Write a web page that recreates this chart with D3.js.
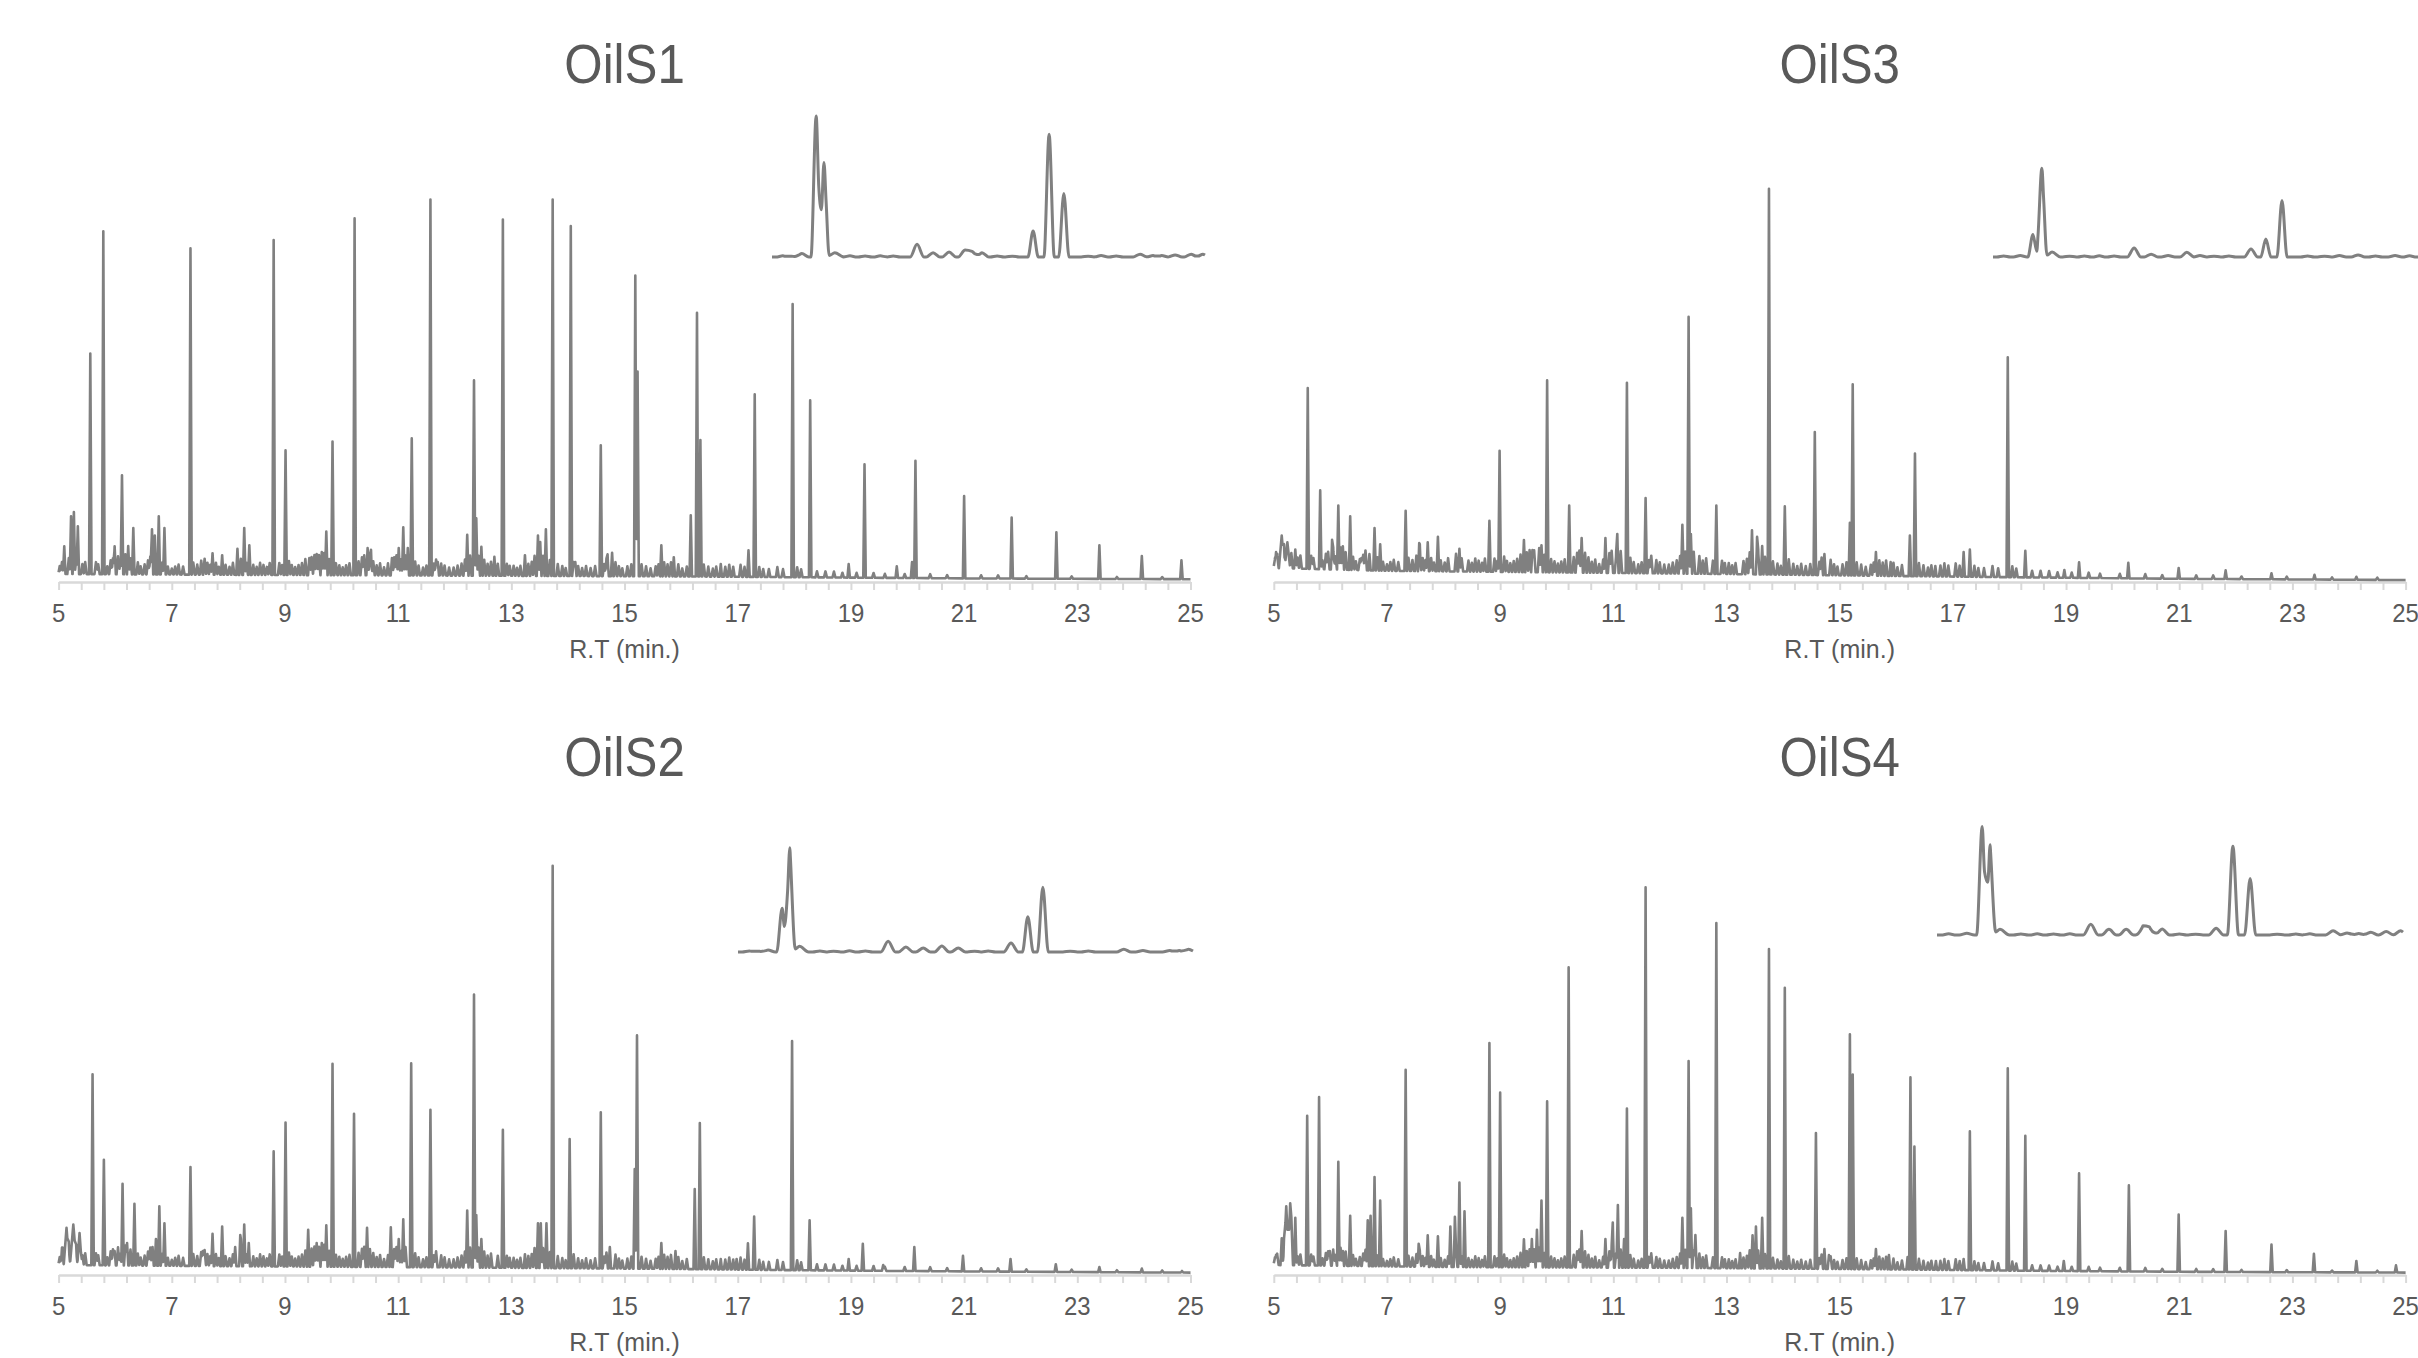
<!DOCTYPE html>
<html>
<head>
<meta charset="utf-8">
<script src="https://cdn.jsdelivr.net/npm/d3@7/dist/d3.min.js"></script>
<style>
  body { margin: 0; background: #fff; }
  svg { display: block; font-family: "Liberation Sans", Arial, sans-serif; }
</style>
</head>
<body>
<svg id="chart" width="2418" height="1358"></svg>
<script>
// ---- data (retention time in min, intensity in % of a common full scale) ----
var tickLabels = [5, 7, 9, 11, 13, 15, 17, 19, 21, 23, 25];

// main peaks: [rt, height above axis, optional half-width]
var peaksS1 = [[5.10,8.9],[5.22,16.4],[5.27,17.5],[5.34,13.9],[5.56,57.1],[5.79,87.7],[5.99,8.9],[6.12,26.7],[6.23,9],[6.32,13.5],
  [6.65,13.2],[6.70,11.6],[6.77,16.4],[6.87,13.5],[7.33,83.4],[7.72,7.2],[7.89,6.7],[8.16,8.3],[8.28,13.5],[8.37,9.2],
  [8.80,85.5],[9.01,32.9],[9.43,6],[9.56,7],[9.65,7.5],[9.73,12.6],[9.84,35.1],[10.23,90.9],[10.46,8.5],[10.52,7],
  [10.89,6],[11.01,8.5],[11.09,13.7],[11.17,8.5],[11.24,35.9],[11.57,95.6],[11.70,5],[12.22,11.8],[12.34,50.4],[12.38,15.9],
  [12.47,8.8],[12.70,6.3],[12.85,90.6],[13.24,6.7],[13.47,11.6],[13.51,10],[13.61,13.2],[13.73,95.6],[14.05,89],[14.13,5],
  [14.58,34.2],[14.70,6],[14.78,7.3],[15.19,76.6],[15.23,52.6],[15.65,9.2],[15.87,6.2],[16.17,16.7],[16.28,67.3],[16.34,35.5],
  [16.70,4.5],[17.19,7.9],[17.30,46.9],[17.97,69.5],[18.28,45.4],[18.96,4.5],[19.24,29.4],[19.81,3.9],[20.08,5],[20.14,30.3],
  [21.00,21.5],[21.84,16.1],[22.63,12.4],[23.39,9.2],[24.14,6.5],[24.84,5.4]];

var peaksS2 = [[5.07,5],[5.14,11.8,0.05],[5.26,12.6,0.06],[5.37,10.5,0.04],[5.60,50.2],[5.80,28.8],[5.99,6],[6.13,22.8],[6.21,8],[6.34,17.8],
  [6.66,7],[6.72,9],[6.78,17.2],[6.87,12.9],[7.33,27],[7.55,6],[7.72,10.3],[7.89,12.1],[8.12,7],[8.21,7.5],
  [8.28,12.6],[8.36,8],[8.80,30.9],[9.01,38.1],[9.41,11.3],[9.56,8],[9.65,8],[9.73,12.4],[9.84,52.8],[10.22,40.3],
  [10.45,11.8],[10.87,11.9],[11.01,9],[11.09,13.9],[11.23,52.9],[11.57,41.3],[12.22,16.1],[12.34,70.1],[12.38,15],[12.47,9],
  [12.85,36.3],[13.24,5.2],[13.47,12.9],[13.52,12.9],[13.62,12.9],[13.73,102.3],[14.03,34],[14.58,40.7],[14.74,7],[15.18,26.5],
  [15.22,59.9],[15.65,8],[15.90,6],[16.24,21.5],[16.33,38],[16.70,4],[16.98,4],[17.18,7.9],[17.29,14.6],[17.96,58.5],
  [18.27,13.7],[18.96,4],[19.21,7.8],[19.57,2.5],[20.12,7],[20.98,4.8],[21.82,4],[22.62,2.7],[23.39,2],[24.14,1.6],[24.85,1]];

var peaksS3 = [[5.04,6.2],[5.14,11.6,0.05],[5.24,9.9,0.05],[5.38,8.1],[5.60,48.5],[5.82,22.9],[6.03,9.4],[6.14,19.1],[6.22,8.9],[6.35,16.4],
  [6.55,6],[6.69,7],[6.78,13.5],[6.88,9.4],[7.33,17.8],[7.57,7],[7.72,9.9],[7.90,11.3],[8.28,8.3],[8.81,15.3],
  [8.99,32.8],[9.42,10.5],[9.57,8],[9.73,9.2],[9.83,50.4],[10.22,19.1],[10.44,11],[10.86,11],[11.07,11],[11.24,49.8],
  [11.57,21],[12.22,14.3],[12.33,66.3],[12.37,12],[12.82,19.1],[13.45,12.9],[13.54,10],[13.63,9],[13.75,98.3],[14.03,18.9],
  [14.56,37.5],[14.73,7],[15.18,14.8],[15.23,49.4],[15.64,7.5],[15.90,5],[16.24,11.6],[16.33,32.1],[16.69,4],[17.19,7.5],
  [17.30,8.1],[17.97,56.2],[18.28,7.8],[18.97,3],[19.23,4.9],[20.10,4.8],[20.99,3.5],[21.82,2.9],[22.63,2.2],[23.39,1.8],[24.13,1.3]];

var peaksS4 = [[5.04,4],[5.14,9.2],[5.22,17.2,0.05],[5.29,17.2,0.05],[5.38,14.3],[5.59,39.8],[5.80,44.5],[5.99,6],[6.14,28.3],[6.22,6],
  [6.35,14.8],[6.66,13.7],[6.71,14.8],[6.78,24.5],[6.88,18.6],[7.33,51.3],[7.56,7],[7.72,9.9],[7.90,9.7],[8.12,12.1],
  [8.20,13.7],[8.28,23.1],[8.37,15.9],[8.81,58],[9.00,45.6],[9.42,8.9],[9.56,9],[9.65,11.3],[9.73,18.6],[9.83,43.4],
  [10.21,76.9],[10.44,11],[10.86,9],[10.99,12.1],[11.08,17.5],[11.19,9],[11.24,41.6],[11.57,96.9],[12.22,14.3],[12.33,53.5],
  [12.37,16.7],[12.45,10],[12.82,88],[13.24,5.5],[13.46,9.9],[13.52,12.1],[13.63,14.3],[13.75,81.5],[14.03,71.8],[14.58,35.5],
  [14.73,6.5],[14.81,5],[15.18,60.2],[15.23,50.1],[15.64,6.5],[15.87,5],[16.20,4.5],[16.25,49.4],[16.32,32.1],[16.70,3.5],
  [17.19,4],[17.30,35.9],[17.97,51.7],[18.28,34.8],[18.96,3.5],[19.23,25.4],[20.11,22.4],[20.99,15.1],[21.82,11],[22.63,7.6],
  [23.38,5.3],[24.13,3.5],[24.83,2.4]];

// minor components common to all four oils: [rt, height above baseline]
var minorPeaks = [[5.02,2],[5.06,3],[5.18,4],[5.31,3.5],[5.42,2.5],[5.47,3],[5.66,3],[5.70,2.5],[5.86,2],[5.92,3.5],
  [5.96,4],[6.05,4.5],[6.09,3],[6.18,5],[6.27,4],[6.40,3],[6.45,2],[6.52,2.5],[6.58,3.5],[6.62,4.5],
  [6.83,3],[6.93,2],[7.00,1.5],[7.06,2],[7.12,2.5],[7.20,2],[7.38,3],[7.45,2.5],[7.52,3.5],[7.58,4],
  [7.63,3],[7.68,2.5],[7.78,3],[7.83,2],[7.95,2.5],[8.02,2],[8.08,3],[8.22,4],[8.32,3],[8.44,2.5],
  [8.50,2],[8.56,3],[8.62,2.5],[8.68,2],[8.73,3],[8.90,3],[8.95,2.5],[9.07,3.5],[9.12,2.5],[9.18,2],
  [9.24,2.5],[9.30,3],[9.36,4],[9.47,4.5],[9.52,5],[9.60,5],[9.69,5.5],[9.78,4],[9.90,3],[9.96,2.5],
  [10.02,2],[10.08,2.5],[10.14,3],[10.30,3.5],[10.36,4.5],[10.40,5],[10.50,4.5],[10.56,3.5],[10.62,2.5],[10.68,3],
  [10.75,2],[10.82,3],[10.93,4.5],[10.97,5],[11.05,4],[11.13,5],[11.30,3.5],[11.36,2.5],[11.44,2],[11.50,2.5],
  [11.63,3],[11.67,4],[11.76,3],[11.82,2.5],[11.90,2],[11.98,2],[12.05,2.5],[12.12,3],[12.18,4],[12.27,5],
  [12.42,5],[12.52,4],[12.58,3],[12.64,3.5],[12.76,3],[12.92,3],[12.97,2.5],[13.04,2.5],[13.10,2],[13.16,2.5],
  [13.30,3],[13.36,3.5],[13.41,5],[13.56,5],[13.68,4],[13.82,3],[13.90,2.5],[13.96,2],[14.10,3.5],[14.18,2.5],
  [14.25,2],[14.32,2.5],[14.40,2],[14.48,2.5],[14.64,3],[14.68,4],[14.84,3.5],[14.90,2.5],[14.96,2],[15.05,2.5],
  [15.12,3],[15.30,3],[15.38,2.5],[15.46,2],[15.55,2.5],[15.60,3],[15.70,3.5],[15.76,3],[15.82,3.5],[15.95,3],
  [16.02,2],[16.10,2.5],[16.40,3],[16.48,2.5],[16.56,2],[16.62,2.5],[16.78,2.5],[16.85,3],[16.92,2.5],[17.05,3],
  [17.12,2.5],[17.38,2.5],[17.45,2],[17.55,2],[17.70,2.5],[17.80,2],[18.05,2.5],[18.12,2],[18.40,1.5],[18.55,1.5],
  [18.70,1.5],[18.85,1.2],[19.10,1.2],[19.40,1.2],[19.60,1],[19.95,1],[20.40,1],[20.70,0.8],[21.30,0.8],[21.60,0.8],
  [22.10,0.6],[22.90,0.6],[23.70,0.5],[24.50,0.5]];

// baseline drift: [rt, level]
var baseS1 = [[5,2.0],[8,1.8],[12,1.6],[16,1.4],[18,1.2],[21,0.9],[25,0.7]];
var baseS2 = [[5,2.5],[8,2.2],[12,1.9],[16,1.5],[18,1.2],[21,0.9],[25,0.6]];
var baseS3 = [[5,3.5],[7,2.8],[10,2.4],[13,2.0],[16,1.5],[18,1.2],[21,0.8],[25,0.5]];
var baseS4 = [[5,2.5],[8,2.0],[12,1.8],[16,1.4],[18,1.1],[21,0.8],[25,0.6]];

// expanded region shown as inset: [position 0-100, height % of largest inset peak, optional half-width]
var insetS1 = [[2.5,0.8],[4.5,0.6],[6.9,2.5],[10.2,100],[12.0,67],[14.5,3,2],[18,0.8],[21.5,0.7],[25,0.8],[28,0.7],
  [33.5,9],[37.2,3],[40.9,3.5],[44.6,5],[46.2,4],[48.5,3],[52,0.7],[55.5,0.6],[60.3,18.4],[64.0,87],[67.4,45],
  [73,0.6],[76,1],[79.5,0.7],[85.0,2],[88,1],[90,1],[93.1,1.5],[96.8,2],[99.5,2]];
var insetS2 = [[2.5,0.7],[4.5,0.6],[6.6,1.4],[9.7,31],[11.4,74],[13.5,4,2],[18,0.7],[21,0.6],[24.5,0.8],[28,0.7],
  [33.0,7.6],[36.9,3.5],[40.7,2.8],[44.8,4.3],[48.4,2.8],[52,0.6],[55,0.7],[60.0,6.4],[63.7,25],[67.0,46],
  [73,0.6],[77,0.7],[84.8,2],[89,1],[94.9,1],[97,1],[99,2]];
var insetS3 = [[2.5,0.7],[6.4,1],[9.4,16],[11.5,63],[13.9,3.5,2],[18,0.6],[21.5,0.7],[25,0.8],[28.5,0.7],
  [33.2,6.4],[37.2,2],[41.2,1],[45.6,3.3],[48.7,1],[52,0.6],[55.5,0.7],[60.7,5.7],[64.2,12.8],[68.0,40],
  [74,0.7],[78,0.6],[81.5,1],[85.9,1.5],[90,0.7],[94.6,1],[98,0.8]];
var insetS4 = [[2.5,0.8],[6.4,1.2],[9.7,77],[11.4,64],[13.5,4,2],[18,0.7],[21.5,0.8],[25,0.7],[28.5,0.8],
  [33.0,7.6],[36.9,4],[40.6,4],[44.2,5.9],[45.6,5],[48.3,4.3],[52,0.7],[55.5,0.6],[59.9,4.8],[63.5,63],[67.2,40],
  [73,0.6],[77,0.7],[80,0.8],[85.0,3],[88,1.5],[90.5,1],[93.1,2],[96.4,2.5],[99.5,3]];

// ---- layout ----
var panels = [
  {title: 'OilS1', peaks: peaksS1, base: baseS1, inset: insetS1, grass: 1.0,
   left: 58.6, right: 1190.5, axisY: 582, titleY: 83, box: {x0: 772, x1: 1205, y: 257}},
  {title: 'OilS3', peaks: peaksS3, base: baseS3, inset: insetS3, grass: 1.1,
   left: 1273.8, right: 2405.6, axisY: 582, titleY: 83, box: {x0: 1993, x1: 2418, y: 257}},
  {title: 'OilS2', peaks: peaksS2, base: baseS2, inset: insetS2, grass: 1.0,
   left: 58.6, right: 1190.5, axisY: 1275, titleY: 776, box: {x0: 738, x1: 1193, y: 952}},
  {title: 'OilS4', peaks: peaksS4, base: baseS4, inset: insetS4, grass: 0.9,
   left: 1273.8, right: 2405.6, axisY: 1275, titleY: 776, box: {x0: 1937, x1: 2403, y: 935}}
];

var lineColor = '#808080';
var axisColor = '#d9d9d9';
var textColor = '#595959';

var svg = d3.select('#chart');

function baseAt(base, t) {
  var i = d3.bisector(function(d){ return d[0]; }).right(base, t);
  if (i <= 0) return base[0][1];
  if (i >= base.length) return base[base.length - 1][1];
  var a = base[i - 1], b = base[i];
  return a[1] + (b[1] - a[1]) * (t - a[0]) / (b[0] - a[0]);
}

// sum of narrow triangular peaks on top of the baseline, evaluated at every peak vertex
function buildTrace(pk, base, lo, hi) {
  var ts = [lo, hi].concat(base.map(function(b){ return b[0]; }));
  pk.forEach(function(p){ ts.push(p.t - p.w, p.t, p.t + p.w); });
  ts = Array.from(new Set(ts.filter(function(t){ return t >= lo && t <= hi; }))).sort(d3.ascending);
  return ts.map(function(t){
    var v = baseAt(base, t) + d3.sum(pk, function(p){
      var d = Math.abs(t - p.t);
      return d < p.w ? p.a * (1 - d / p.w) : 0;
    });
    return [t, v];
  });
}

panels.forEach(function(p){
  var x = d3.scaleLinear().domain([5, 25]).range([p.left, p.right]);
  var y = d3.scaleLinear().domain([0, 100]).range([p.axisY, p.axisY - 400]);
  var g = svg.append('g');

  //Title
  g.append('text')
    .attr('transform', 'translate(' + (p.left + p.right) / 2 + ',' + p.titleY + ') scale(0.88,1)')
    .attr('text-anchor', 'middle')
    .attr('font-size', 56)
    .attr('fill', textColor)
    .text(p.title);

  //Axis with minor ticks every 0.4 min
  var ax = g.append('g')
    .attr('transform', 'translate(0,' + p.axisY + ')')
    .call(d3.axisBottom(x)
      .tickValues(d3.range(0, 51).map(function(i){ return 5 + i * 0.4; }))
      .tickSize(8).tickSizeOuter(0).tickFormat(''));
  ax.select('.domain').attr('stroke', axisColor).attr('stroke-width', 2.5);
  ax.selectAll('.tick line').attr('stroke', axisColor).attr('stroke-width', 2);

  g.selectAll('text.tick-label').data(tickLabels).enter().append('text')
    .attr('class', 'tick-label')
    .attr('transform', function(d){ return 'translate(' + x(d) + ',' + (p.axisY + 40) + ') scale(0.92,1)'; })
    .attr('text-anchor', 'middle')
    .attr('font-size', 26)
    .attr('fill', textColor)
    .text(function(d){ return d; });

  g.append('text')
    .attr('x', (p.left + p.right) / 2)
    .attr('y', p.axisY + 76)
    .attr('text-anchor', 'middle')
    .attr('font-size', 25)
    .attr('fill', textColor)
    .text('R.T (min.)');

  //Chromatogram
  var pk = p.peaks.map(function(d){
      return {t: d[0], a: Math.max(0, d[1] - baseAt(p.base, d[0])), w: d[2] || 0.022};
    }).concat(minorPeaks.map(function(d){
      return {t: d[0], a: d[1] * p.grass, w: 0.026};
    }));
  var trace = buildTrace(pk, p.base, 5, 25);
  g.append('path')
    .datum(trace)
    .attr('fill', 'none')
    .attr('stroke', lineColor)
    .attr('stroke-width', 2.6)
    .attr('stroke-linejoin', 'round')
    .attr('d', d3.line().x(function(d){ return x(d[0]); }).y(function(d){ return y(d[1]); }));

  //Inset (expanded region)
  var xi = d3.scaleLinear().domain([0, 100]).range([p.box.x0, p.box.x1]);
  var yi = d3.scaleLinear().domain([0, 100]).range([p.box.y, p.box.y - 141]);
  var ipk = p.inset.map(function(d){
    return {t: d[0], a: d[1], w: d[2] || (d[1] > 10 ? 1.2 : 1.6)};
  });
  var itrace = buildTrace(ipk, [[0, 0], [100, 0]], 0, 100);
  g.append('path')
    .datum(itrace)
    .attr('fill', 'none')
    .attr('stroke', lineColor)
    .attr('stroke-width', 3)
    .attr('stroke-linejoin', 'round')
    .attr('d', d3.line().curve(d3.curveMonotoneX).x(function(d){ return xi(d[0]); }).y(function(d){ return yi(d[1]); }));
});
</script>
</body>
</html>
